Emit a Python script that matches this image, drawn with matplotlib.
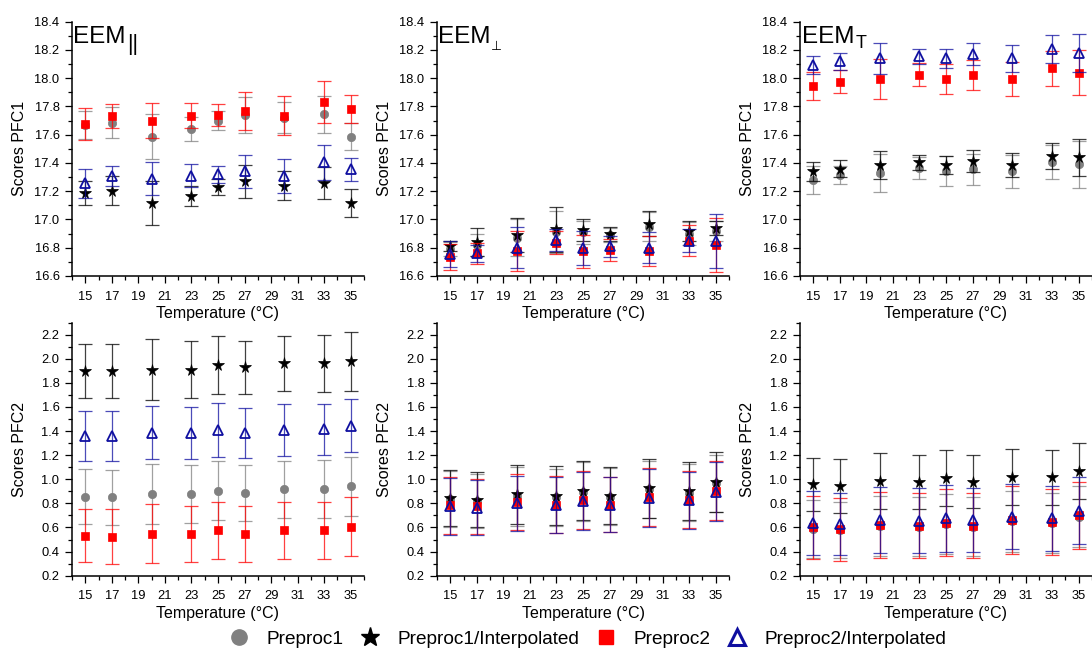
import matplotlib
matplotlib.use("Agg")
import matplotlib.pyplot as plt
from matplotlib.lines import Line2D
from matplotlib.ticker import MultipleLocator, FormatStrFormatter

plt.rcParams['font.family'] = ['Liberation Sans', 'DejaVu Sans']

# ---------------------------------------------------------------- data
temps = [15, 17, 20, 23, 25, 27, 30, 33, 35]
series_names = ["Preproc1", "Preproc1/Interpolated", "Preproc2", "Preproc2/Interpolated"]

# EEM parallel, PFC1
par1_p1 = [17.67, 17.685, 17.585, 17.64, 17.70, 17.74, 17.72, 17.745, 17.585]
par1_p1_err = [0.10, 0.11, 0.16, 0.085, 0.07, 0.13, 0.11, 0.13, 0.095]
par1_p1i = [17.19, 17.205, 17.115, 17.165, 17.23, 17.27, 17.24, 17.26, 17.115]
par1_p1i_err = [0.085, 0.105, 0.155, 0.07, 0.06, 0.115, 0.10, 0.115, 0.10]
par1_p2 = [17.675, 17.73, 17.70, 17.735, 17.74, 17.765, 17.735, 17.83, 17.78]
par1_p2_err = [0.115, 0.085, 0.125, 0.09, 0.075, 0.135, 0.14, 0.15, 0.10]
par1_p2i = [17.255, 17.31, 17.29, 17.31, 17.32, 17.34, 17.31, 17.405, 17.355]
par1_p2i_err = [0.105, 0.07, 0.115, 0.08, 0.06, 0.115, 0.12, 0.125, 0.08]

# EEM perpendicular, PFC1
perp1_p1 = [16.79, 16.82, 16.87, 16.91, 16.91, 16.89, 16.95, 16.90, 16.92]
perp1_p1_err = [0.05, 0.08, 0.13, 0.15, 0.08, 0.05, 0.10, 0.08, 0.07]
perp1_p1i = [16.81, 16.84, 16.89, 16.93, 16.925, 16.90, 16.97, 16.92, 16.94]
perp1_p1i_err = [0.035, 0.10, 0.12, 0.16, 0.075, 0.05, 0.09, 0.07, 0.05]
perp1_p2 = [16.735, 16.76, 16.775, 16.835, 16.775, 16.785, 16.775, 16.85, 16.82]
perp1_p2_err = [0.09, 0.075, 0.14, 0.08, 0.115, 0.08, 0.105, 0.11, 0.19]
perp1_p2i = [16.755, 16.76, 16.80, 16.855, 16.80, 16.81, 16.80, 16.85, 16.85]
perp1_p2i_err = [0.09, 0.06, 0.145, 0.075, 0.12, 0.075, 0.11, 0.08, 0.19]

# EEM total, PFC1
tot1_p1 = [17.28, 17.315, 17.33, 17.365, 17.345, 17.355, 17.34, 17.41, 17.39]
tot1_p1_err = [0.10, 0.065, 0.135, 0.075, 0.105, 0.11, 0.12, 0.12, 0.165]
tot1_p1i = [17.34, 17.36, 17.385, 17.405, 17.385, 17.415, 17.385, 17.45, 17.44]
tot1_p1i_err = [0.07, 0.06, 0.10, 0.055, 0.065, 0.08, 0.085, 0.09, 0.13]
tot1_p2 = [17.945, 17.975, 17.995, 18.025, 17.995, 18.025, 17.995, 18.07, 18.04]
tot1_p2_err = [0.10, 0.08, 0.14, 0.08, 0.105, 0.105, 0.12, 0.125, 0.16]
tot1_p2i = [18.095, 18.12, 18.14, 18.155, 18.14, 18.17, 18.14, 18.205, 18.18]
tot1_p2i_err = [0.065, 0.06, 0.11, 0.055, 0.07, 0.08, 0.095, 0.10, 0.135]

# EEM parallel, PFC2
par2_p1 = [0.855, 0.85, 0.875, 0.88, 0.905, 0.885, 0.915, 0.92, 0.94]
par2_p1_err = [0.23, 0.23, 0.25, 0.24, 0.245, 0.235, 0.235, 0.24, 0.245]
par2_p1i = [1.90, 1.90, 1.91, 1.91, 1.95, 1.93, 1.96, 1.96, 1.98]
par2_p1i_err = [0.225, 0.225, 0.25, 0.24, 0.24, 0.22, 0.23, 0.24, 0.245]
par2_p2 = [0.53, 0.525, 0.55, 0.545, 0.575, 0.545, 0.575, 0.575, 0.605]
par2_p2_err = [0.22, 0.23, 0.245, 0.235, 0.24, 0.23, 0.24, 0.24, 0.245]
par2_p2i = [1.36, 1.36, 1.385, 1.385, 1.41, 1.385, 1.41, 1.415, 1.445]
par2_p2i_err = [0.205, 0.205, 0.22, 0.215, 0.225, 0.21, 0.215, 0.21, 0.22]

# EEM perpendicular, PFC2
perp2_p1 = [0.835, 0.82, 0.86, 0.85, 0.895, 0.855, 0.915, 0.89, 0.965]
perp2_p1_err = [0.23, 0.225, 0.245, 0.235, 0.245, 0.235, 0.24, 0.24, 0.24]
perp2_p1i = [0.845, 0.83, 0.875, 0.865, 0.905, 0.865, 0.925, 0.905, 0.975]
perp2_p1i_err = [0.235, 0.23, 0.245, 0.245, 0.245, 0.24, 0.245, 0.24, 0.25]
perp2_p2 = [0.785, 0.775, 0.81, 0.79, 0.83, 0.79, 0.85, 0.83, 0.905]
perp2_p2_err = [0.235, 0.225, 0.235, 0.235, 0.24, 0.23, 0.24, 0.235, 0.245]
perp2_p2i = [0.775, 0.765, 0.80, 0.785, 0.82, 0.79, 0.845, 0.825, 0.895]
perp2_p2i_err = [0.235, 0.225, 0.23, 0.23, 0.24, 0.225, 0.24, 0.235, 0.245]

# EEM total, PFC2
tot2_p1 = [0.59, 0.58, 0.61, 0.605, 0.63, 0.605, 0.65, 0.635, 0.69]
tot2_p1_err = [0.24, 0.235, 0.25, 0.245, 0.25, 0.245, 0.25, 0.25, 0.255]
tot2_p1i = [0.96, 0.945, 0.985, 0.975, 1.01, 0.98, 1.02, 1.015, 1.07]
tot2_p1i_err = [0.22, 0.225, 0.23, 0.225, 0.23, 0.22, 0.23, 0.23, 0.23]
tot2_p2 = [0.60, 0.585, 0.62, 0.615, 0.64, 0.615, 0.66, 0.645, 0.70]
tot2_p2_err = [0.265, 0.26, 0.275, 0.27, 0.28, 0.27, 0.28, 0.275, 0.28]
tot2_p2i = [0.64, 0.63, 0.66, 0.655, 0.675, 0.66, 0.69, 0.675, 0.74]
tot2_p2i_err = [0.265, 0.26, 0.275, 0.27, 0.275, 0.265, 0.27, 0.27, 0.275]

panels = [
    [(par1_p1, par1_p1_err), (par1_p1i, par1_p1i_err), (par1_p2, par1_p2_err), (par1_p2i, par1_p2i_err)],
    [(perp1_p1, perp1_p1_err), (perp1_p1i, perp1_p1i_err), (perp1_p2, perp1_p2_err), (perp1_p2i, perp1_p2i_err)],
    [(tot1_p1, tot1_p1_err), (tot1_p1i, tot1_p1i_err), (tot1_p2, tot1_p2_err), (tot1_p2i, tot1_p2i_err)],
    [(par2_p1, par2_p1_err), (par2_p1i, par2_p1i_err), (par2_p2, par2_p2_err), (par2_p2i, par2_p2i_err)],
    [(perp2_p1, perp2_p1_err), (perp2_p1i, perp2_p1i_err), (perp2_p2, perp2_p2_err), (perp2_p2i, perp2_p2i_err)],
    [(tot2_p1, tot2_p1_err), (tot2_p1i, tot2_p1i_err), (tot2_p2, tot2_p2_err), (tot2_p2i, tot2_p2i_err)],
]

# ---------------------------------------------------------------- styles
GRAY = '#808080'
RED = '#ff0000'
NAVY = '#0f0fa0'
styles = [
    dict(marker='o', color=GRAY, mfc=GRAY, mec=GRAY, ms=6.0, mew=0.5),
    dict(marker='*', color='black', mfc='black', mec='black', ms=8.5, mew=0.5),
    dict(marker='s', color=RED, mfc=RED, mec=RED, ms=5.8, mew=0.5),
    dict(marker='^', color=NAVY, mfc='none', mec=NAVY, ms=7.0, mew=1.3),
]

W, H = 1092, 650
fig = plt.figure(figsize=(W / 100, H / 100), dpi=100)


def px_axes(left, top, width, height):
    return fig.add_axes([left / W, 1 - (top + height) / H, width / W, height / H])


col_left = [72, 437, 800]
col_width = 292
rows = [(21.7, 254.3, (16.6, 18.4), "Scores PFC1"),
        (322.5, 253.2, (0.2, 2.3), "Scores PFC2")]

for r, (top, height, ylim, ylabel) in enumerate(rows):
    for c in range(3):
        ax = px_axes(col_left[c], top, col_width, height)
        for s, ((vals, errs), st) in enumerate(zip(panels[r * 3 + c], styles)):
            z = 3 + 2 * s
            ax.errorbar(temps, vals, yerr=errs, fmt='none', ecolor=st['color'],
                        elinewidth=0.9, capsize=4.8, capthick=0.9, alpha=0.75,
                        zorder=z)
            ax.plot(temps, vals, linestyle='none', marker=st['marker'],
                    mfc=st['mfc'], mec=st['mec'], ms=st['ms'], mew=st['mew'],
                    zorder=z + 1)
        ax.set_xlim(14, 36)
        ax.set_ylim(*ylim)
        ax.xaxis.set_minor_locator(MultipleLocator(1))
        ax.set_xticks(list(range(15, 36, 2)))
        ax.yaxis.set_major_locator(MultipleLocator(0.2))
        ax.yaxis.set_minor_locator(MultipleLocator(0.1))
        ax.yaxis.set_major_formatter(FormatStrFormatter('%.1f'))
        for side in ('top', 'right'):
            ax.spines[side].set_visible(False)
        for side in ('left', 'bottom'):
            ax.spines[side].set_linewidth(1.1)
        ax.tick_params(which='major', direction='out', length=5, width=0.9,
                       labelsize=9.3, pad=4)
        ax.tick_params(axis='x', which='major', pad=5.5)
        ax.tick_params(which='minor', direction='out', length=3, width=0.9)
        ax.set_xlabel("Temperature (\u00b0C)", fontsize=11.5)
        ax.set_ylabel(ylabel, fontsize=11.5)
        ax.yaxis.set_label_coords(-0.155, 0.5)
        ax.xaxis.set_label_coords(0.5, -0.118)
        ax.patch.set_alpha(0)

# panel titles with subscripts
title_x = [73, 438, 802]
sub_specs = [("||", 127, 50, 15.5), ("\u22a5", 491, 50.5, 9), ("T", 856, 48.5, 13)]
for tx, (sub, sx, sy, sfs) in zip(title_x, sub_specs):
    fig.text(tx / W, 1 - 43 / H, "EEM", fontsize=17.5, va='baseline', ha='left')
    fig.text(sx / W, 1 - sy / H, sub, fontsize=sfs, va='baseline', ha='left')

# shared legend along the bottom
handles = [
    Line2D([], [], linestyle='none', marker='o', mfc=GRAY, mec=GRAY, ms=11),
    Line2D([], [], linestyle='none', marker='*', mfc='black', mec='black', ms=14),
    Line2D([], [], linestyle='none', marker='s', mfc=RED, mec=RED, ms=10.5),
    Line2D([], [], linestyle='none', marker='^', mfc='none', mec=NAVY, ms=11.5, mew=2.2),
]
fig.legend(handles, series_names, loc='center', ncol=4, frameon=False,
           bbox_to_anchor=(588 / W, 1 - 639 / H), fontsize=13.7,
           handlelength=1.0, handletextpad=0.95, columnspacing=0.9,
           borderpad=0, borderaxespad=0)

fig.savefig("out.png", dpi=100)
